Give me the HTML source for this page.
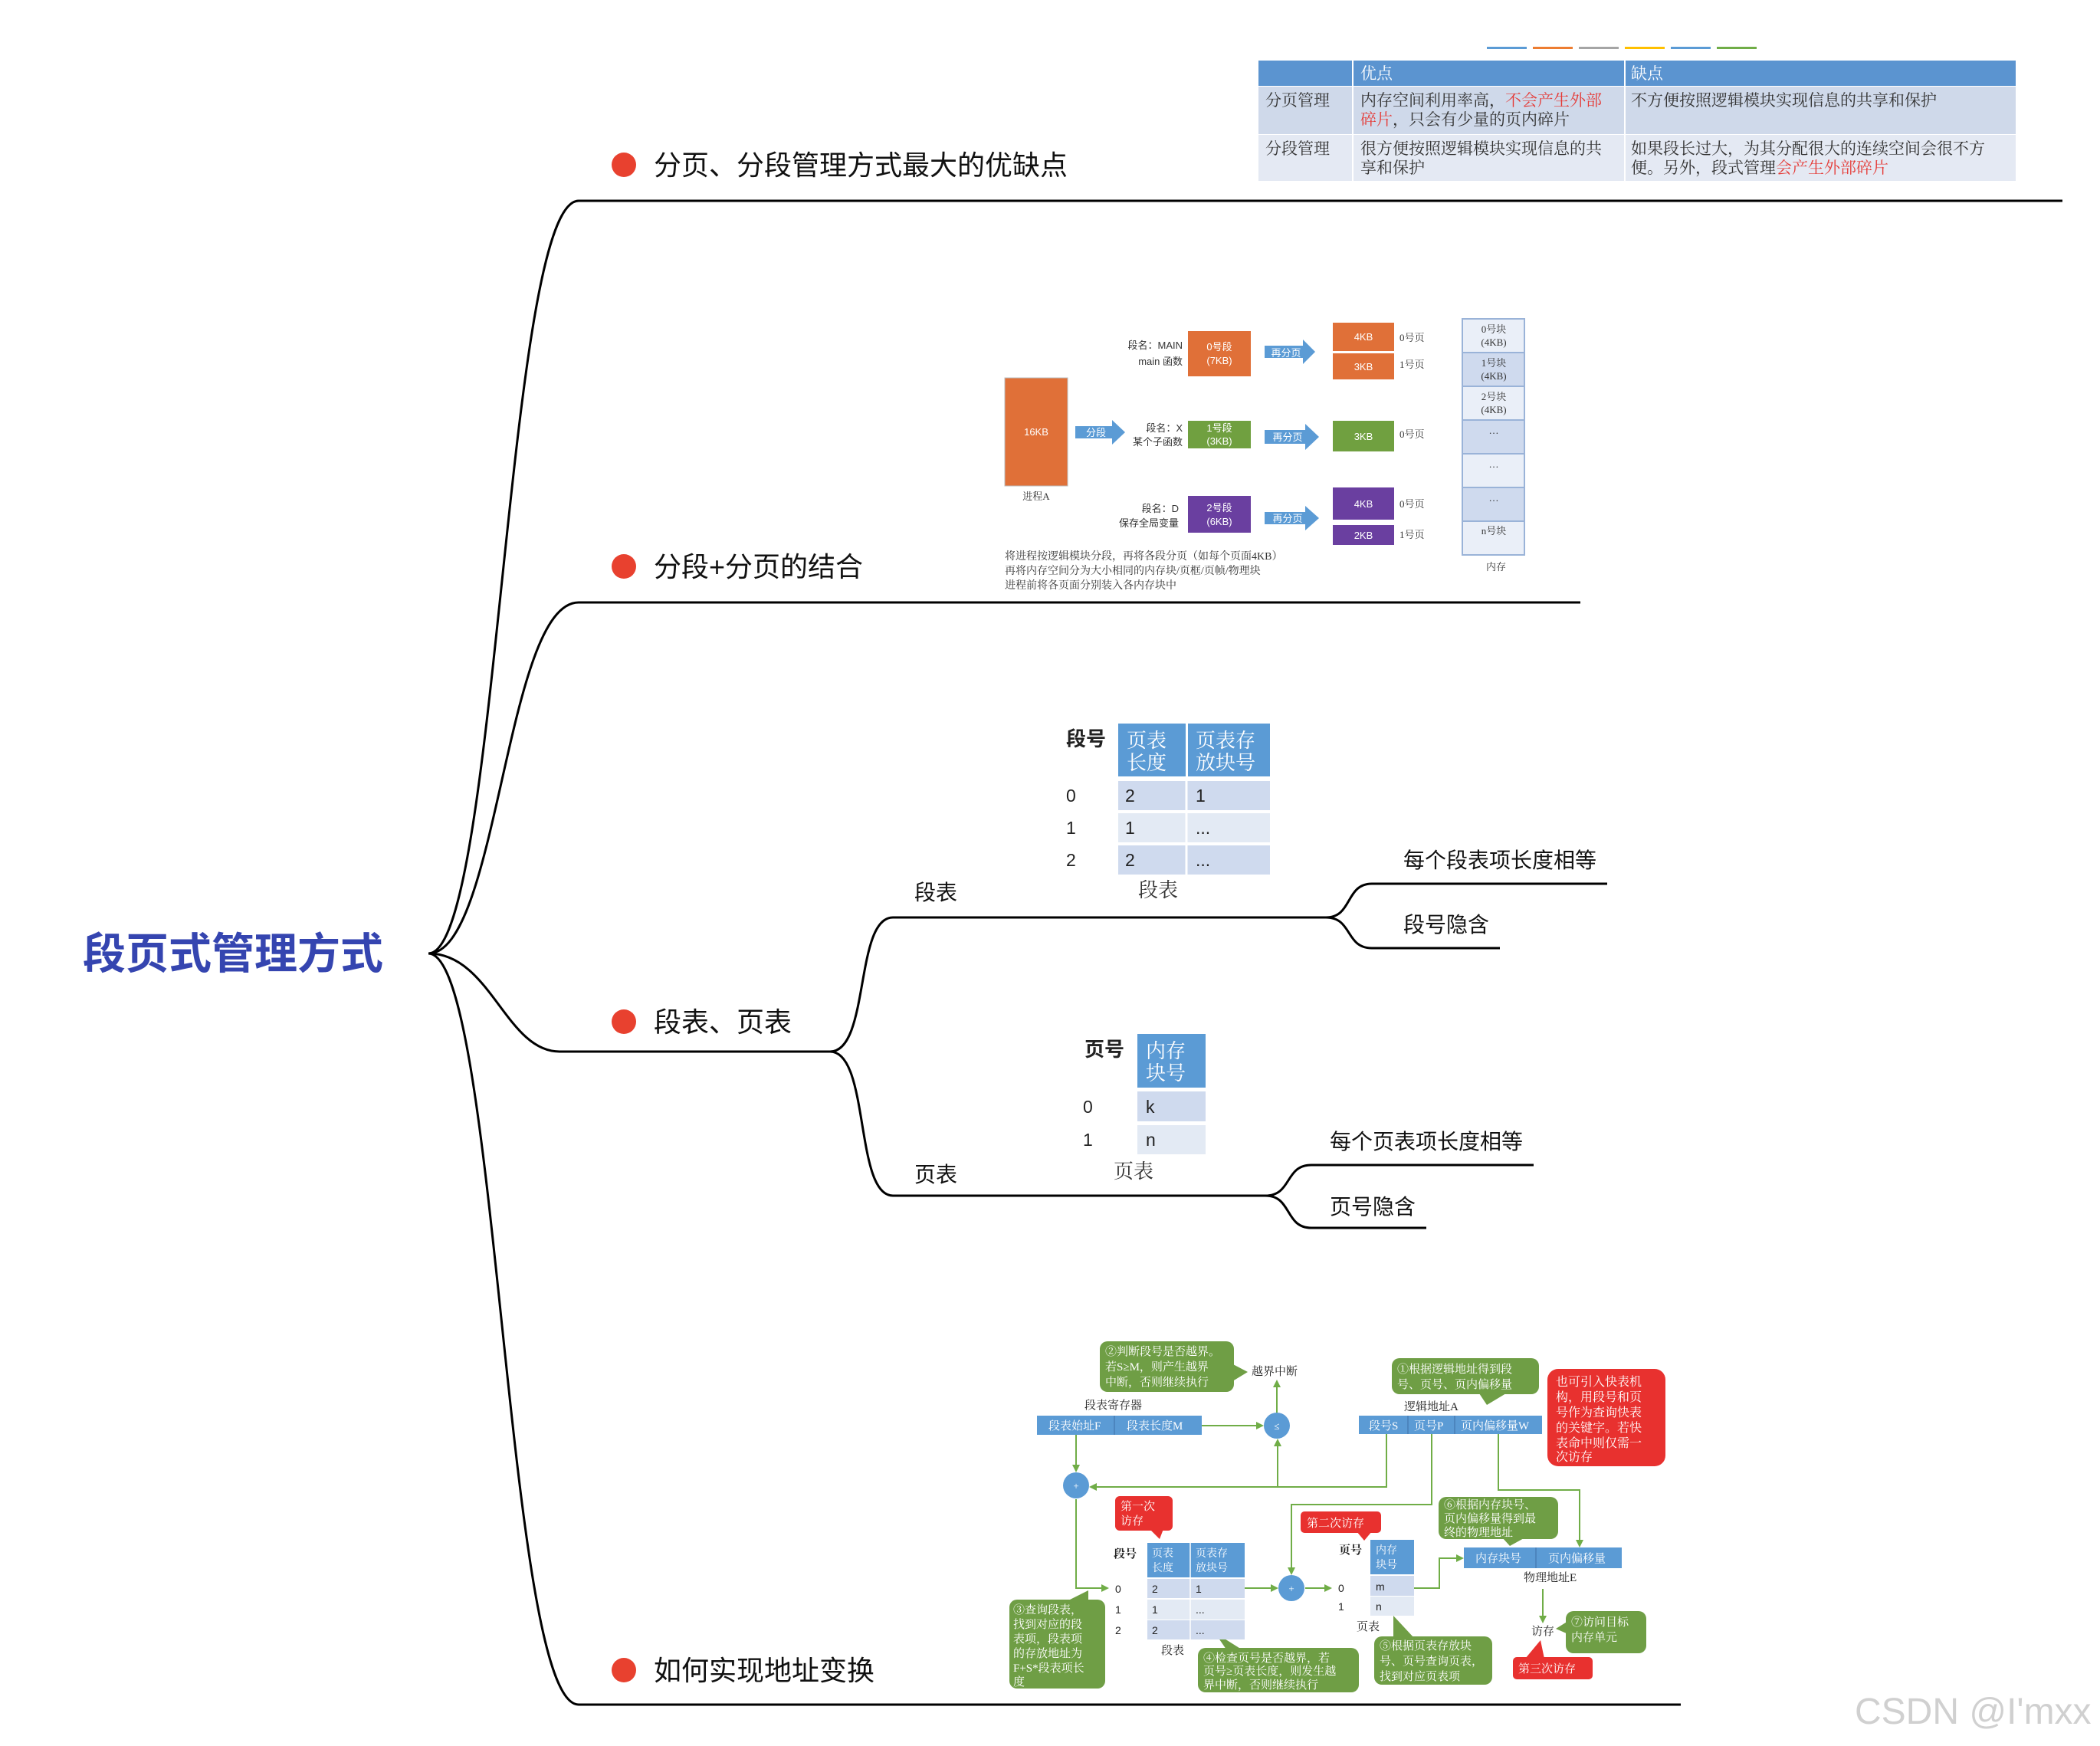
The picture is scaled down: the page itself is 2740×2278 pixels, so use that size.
<!DOCTYPE html>
<html><head><meta charset="utf-8"><style>
html,body{margin:0;padding:0;background:#fff;width:2740px;height:2278px;overflow:hidden}
svg{display:block}
.s{font-family:"Liberation Sans","Noto Sans CJK SC",sans-serif}
.r{font-family:"Liberation Serif","Noto Serif CJK SC",serif}
</style></head><body>
<svg width="2740" height="2278" viewBox="0 0 2740 2278" xmlns="http://www.w3.org/2000/svg">
<defs>
<marker id="ag" markerWidth="10" markerHeight="10" refX="8" refY="5" orient="auto" markerUnits="userSpaceOnUse"><path d="M0,0 L10,5 L0,10 z" fill="#70ad47"/></marker>
</defs>
<g fill="none" stroke="#000" stroke-width="3">
<path d="M559,1244 C650,1244 660,262 755,262 L2691,262"/>
<path d="M559,1244 C650,1244 660,786 755,786 L2062,786"/>
<path d="M559,1244 C640,1244 660,1372 730,1372 L1083,1372"/>
<path d="M559,1244 C650,1244 660,2224 755,2224 L2193,2224"/>
<path d="M1083,1372 C1135,1372 1115,1197 1165,1197 L1730,1197"/>
<path d="M1083,1372 C1135,1372 1115,1560 1165,1560 L1651,1560"/>
<path d="M1730,1197 C1765,1197 1755,1153 1790,1153 L2097,1153"/>
<path d="M1730,1197 C1765,1197 1755,1237 1790,1237 L1957,1237"/>
<path d="M1651,1560 C1686,1560 1676,1520 1711,1520 L2001,1520"/>
<path d="M1651,1560 C1686,1560 1676,1602 1711,1602 L1861,1602"/>
</g>
<text x="108" y="1264" class="s" font-size="56" font-weight="bold" fill="#3545b0">段页式管理方式</text>
<g fill="#e8412f"><circle cx="814" cy="215" r="16"/><circle cx="814" cy="739" r="16"/><circle cx="814" cy="1333" r="16"/><circle cx="814" cy="2179" r="16"/></g>
<g class="s" font-size="36" fill="#111">
<text x="853" y="228">分页、分段管理方式最大的优缺点</text>
<text x="853" y="752">分段+分页的结合</text>
<text x="853" y="1346">段表、页表</text>
<text x="853" y="2192">如何实现地址变换</text>
</g>
<g class="s" font-size="28" fill="#111">
<text x="1193" y="1174">段表</text>
<text x="1193" y="1542">页表</text>
<text x="1831" y="1132">每个段表项长度相等</text>
<text x="1831" y="1216">段号隐含</text>
<text x="1735" y="1499">每个页表项长度相等</text>
<text x="1735" y="1584">页号隐含</text>
</g>

<g>
<rect x="1940" y="61" width="52" height="3" fill="#5b9bd5"/><rect x="2000" y="61" width="52" height="3" fill="#ed7d31"/><rect x="2060" y="61" width="52" height="3" fill="#a5a5a5"/><rect x="2120" y="61" width="52" height="3" fill="#ffc000"/><rect x="2180" y="61" width="52" height="3" fill="#5b9bd5"/><rect x="2240" y="61" width="52" height="3" fill="#70ad47"/>
<rect x="1642" y="79" width="988" height="33" fill="#5b94d0"/>
<rect x="1642" y="113" width="988" height="62" fill="#cfd9ea"/>
<rect x="1642" y="176" width="988" height="60" fill="#e4e9f3"/>
<g stroke="#fff" stroke-width="2"><line x1="1765" y1="79" x2="1765" y2="236"/><line x1="2120" y1="79" x2="2120" y2="236"/></g>
<g class="r" font-size="21" fill="#333">
<text x="1775" y="103" fill="#fff">优点</text><text x="2128" y="103" fill="#fff">缺点</text>
<text x="1651" y="138">分页管理</text>
<text x="1775" y="138">内存空间利用率高，<tspan fill="#e53935">不会产生外部</tspan></text>
<text x="1775" y="163"><tspan fill="#e53935">碎片</tspan>，只会有少量的页内碎片</text>
<text x="2128" y="138">不方便按照逻辑模块实现信息的共享和保护</text>
<text x="1651" y="201">分段管理</text>
<text x="1775" y="201">很方便按照逻辑模块实现信息的共</text>
<text x="1775" y="226">享和保护</text>
<text x="2128" y="201">如果段长过大，为其分配很大的连续空间会很不方</text>
<text x="2128" y="226">便。另外，段式管理<tspan fill="#e53935">会产生外部碎片</tspan></text>
</g>
</g>

<g class="s" font-size="13">
<rect x="1311" y="493" width="82" height="141" fill="#e07038" stroke="#bbb"/>
<text x="1352" y="568" fill="#fff" text-anchor="middle">16KB</text>
<text x="1352" y="652" fill="#333" text-anchor="middle" class="r">进程A</text>
<path d="M1403,556 h48 v-8 l17,16 l-17,16 v-8 h-48z" fill="#5b9bd5"/><text x="1430" y="569" fill="#fff" text-anchor="middle">分段</text>
<g fill="#333" text-anchor="end">
<text x="1543" y="455">段名：MAIN</text><text x="1543" y="476">main 函数</text>
<text x="1543" y="563">段名：X</text><text x="1543" y="581">某个子函数</text>
<text x="1538" y="668">段名：D</text><text x="1538" y="687">保存全局变量</text>
</g>
<rect x="1550" y="432" width="82" height="59" fill="#e07038"/><text x="1591" y="457" fill="#fff" text-anchor="middle">0号段</text><text x="1591" y="475" fill="#fff" text-anchor="middle">(7KB)</text>
<rect x="1550" y="549" width="82" height="36" fill="#70a040"/><text x="1591" y="563" fill="#fff" text-anchor="middle">1号段</text><text x="1591" y="580" fill="#fff" text-anchor="middle">(3KB)</text>
<rect x="1550" y="647" width="82" height="48" fill="#6a3fa0"/><text x="1591" y="667" fill="#fff" text-anchor="middle">2号段</text><text x="1591" y="685" fill="#fff" text-anchor="middle">(6KB)</text>
<path d="M1650,451 h50 v-8 l16,16 l-16,16 v-8 h-50z" fill="#5b9bd5"/><text x="1678" y="465" fill="#fff" text-anchor="middle">再分页</text>
<path d="M1650,561 h53 v-8 l18,17 l-18,17 v-8 h-53z" fill="#5b9bd5"/><text x="1680" y="575" fill="#fff" text-anchor="middle">再分页</text>
<path d="M1650,668 h53 v-8 l18,16 l-18,16 v-8 h-53z" fill="#5b9bd5"/><text x="1680" y="681" fill="#fff" text-anchor="middle">再分页</text>
<rect x="1739" y="421" width="80" height="37" fill="#e07038"/><text x="1779" y="444" fill="#fff" text-anchor="middle">4KB</text>
<rect x="1739" y="461" width="80" height="34" fill="#e07038"/><text x="1779" y="483" fill="#fff" text-anchor="middle">3KB</text>
<rect x="1739" y="549" width="80" height="40" fill="#70a040"/><text x="1779" y="574" fill="#fff" text-anchor="middle">3KB</text>
<rect x="1739" y="636" width="80" height="42" fill="#6a3fa0"/><text x="1779" y="662" fill="#fff" text-anchor="middle">4KB</text>
<rect x="1739" y="685" width="80" height="26" fill="#6a3fa0"/><text x="1779" y="703" fill="#fff" text-anchor="middle">2KB</text>
<g fill="#333" class="r"><text x="1826" y="445">0号页</text><text x="1826" y="480">1号页</text><text x="1826" y="571">0号页</text><text x="1826" y="662">0号页</text><text x="1826" y="702">1号页</text></g>
<g stroke="#9ab3d8" stroke-width="2">
<rect x="1908" y="416" width="81" height="44" fill="#eaeff8"/><rect x="1908" y="460" width="81" height="44" fill="#cfdaee"/><rect x="1908" y="504" width="81" height="44" fill="#eaeff8"/><rect x="1908" y="548" width="81" height="44" fill="#cfdaee"/><rect x="1908" y="592" width="81" height="44" fill="#eaeff8"/><rect x="1908" y="636" width="81" height="44" fill="#cfdaee"/><rect x="1908" y="680" width="81" height="44" fill="#eaeff8"/>
</g>
<g fill="#333" text-anchor="middle" class="r">
<text x="1949" y="434">0号块</text><text x="1949" y="451">(4KB)</text>
<text x="1949" y="478">1号块</text><text x="1949" y="495">(4KB)</text>
<text x="1949" y="522">2号块</text><text x="1949" y="539">(4KB)</text>
<text x="1949" y="566">…</text><text x="1949" y="610">…</text><text x="1949" y="654">…</text><text x="1949" y="697">n号块</text>
<text x="1952" y="744">内存</text>
</g>
<g fill="#333" class="r" font-size="14"><text x="1311" y="730">将进程按逻辑模块分段，再将各段分页（如每个页面4KB）</text><text x="1311" y="749">再将内存空间分为大小相同的内存块/页框/页帧/物理块</text><text x="1311" y="768">进程前将各页面分别装入各内存块中</text></g>
</g>

<g class="s">
<text x="1391" y="973" font-size="26" font-weight="bold" fill="#222">段号</text>
<rect x="1459" y="944" width="88" height="69" fill="#5b9bd5"/><rect x="1550" y="944" width="107" height="69" fill="#5b9bd5"/>
<g font-size="26" fill="#fff" class="r"><text x="1470" y="975">页表</text><text x="1470" y="1004">长度</text><text x="1560" y="975">页表存</text><text x="1560" y="1004">放块号</text></g>
<rect x="1459" y="1019" width="198" height="38" fill="#cfdaee"/><rect x="1459" y="1061" width="198" height="38" fill="#e3eaf4"/><rect x="1459" y="1103" width="198" height="38" fill="#cfdaee"/>
<line x1="1548" y1="1019" x2="1548" y2="1141" stroke="#fff" stroke-width="3"/>
<g font-size="23" fill="#222"><text x="1391" y="1046">0</text><text x="1391" y="1088">1</text><text x="1391" y="1130">2</text>
<text x="1468" y="1046">2</text><text x="1468" y="1088">1</text><text x="1468" y="1130">2</text>
<text x="1560" y="1046">1</text><text x="1560" y="1088">...</text><text x="1560" y="1130">...</text></g>
<text x="1485" y="1170" font-size="26" fill="#333" class="r">段表</text>
<text x="1415" y="1378" font-size="26" font-weight="bold" fill="#222">页号</text>
<rect x="1484" y="1349" width="89" height="70" fill="#5b9bd5"/>
<g font-size="26" fill="#fff" class="r"><text x="1495" y="1380">内存</text><text x="1495" y="1409">块号</text></g>
<rect x="1484" y="1424" width="89" height="39" fill="#cfdaee"/><rect x="1484" y="1468" width="89" height="38" fill="#e3eaf4"/>
<g font-size="23" fill="#222"><text x="1413" y="1452">0</text><text x="1413" y="1495">1</text><text x="1495" y="1452">k</text><text x="1495" y="1495">n</text></g>
<text x="1453" y="1537" font-size="26" fill="#333" class="r">页表</text>
</g>

<g class="r" font-size="15">
<g fill="none" stroke="#70ad47" stroke-width="2">
<line x1="1568" y1="1860" x2="1647" y2="1860" marker-end="url(#ag)"/>
<line x1="1666" y1="1843" x2="1666" y2="1802" marker-end="url(#ag)"/>
<line x1="1404" y1="1872" x2="1404" y2="1919" marker-end="url(#ag)"/>
<polyline points="1809,1871 1809,1940 1423,1940" marker-end="url(#ag)"/>
<line x1="1667" y1="1940" x2="1667" y2="1879" marker-end="url(#ag)"/>
<polyline points="1404,1956 1404,2072 1445,2072" marker-end="url(#ag)"/>
<line x1="1624" y1="2072" x2="1666" y2="2072" marker-end="url(#ag)"/>
<polyline points="1868,1871 1868,1963 1685,1963 1685,2053" marker-end="url(#ag)"/>
<line x1="1703" y1="2072" x2="1736" y2="2072" marker-end="url(#ag)"/>
<polyline points="1955,1871 1955,1944 2061,1944 2061,2017" marker-end="url(#ag)"/>
<polyline points="1845,2072 1878,2072 1878,2033 1908,2033" marker-end="url(#ag)"/>
<line x1="2013" y1="2073" x2="2013" y2="2116" marker-end="url(#ag)"/>
</g>
<circle cx="1666" cy="1860" r="17" fill="#5b9bd5"/><text x="1666" y="1865" fill="#fff" text-anchor="middle" font-size="13">≤</text>
<circle cx="1404" cy="1938" r="17" fill="#5b9bd5"/><text x="1404" y="1943" fill="#fff" text-anchor="middle" font-size="13">+</text>
<circle cx="1685" cy="2072" r="17" fill="#5b9bd5"/><text x="1685" y="2077" fill="#fff" text-anchor="middle" font-size="13">+</text>
<g fill="#6f9e45">
<rect x="1435" y="1750" width="175" height="66" rx="10"/><polygon points="1605,1778 1628,1790 1605,1804"/>
<rect x="1317" y="2087" width="125" height="116" rx="10"/><polygon points="1390,2090 1420,2075 1420,2092"/>
<rect x="1563" y="2150" width="210" height="58" rx="10"/><polygon points="1585,2130 1620,2152 1600,2152"/>
<rect x="1816" y="1772" width="192" height="47" rx="10"/><polygon points="1930,1818 1940,1833 1965,1818"/>
<rect x="1877" y="1953" width="156" height="55" rx="10"/><polygon points="1960,2006 1970,2017 1990,2006"/>
<rect x="1793" y="2135" width="154" height="63" rx="10"/><polygon points="1818,2108 1818,2137 1845,2137"/>
<rect x="2043" y="2102" width="105" height="55" rx="10"/><polygon points="2046,2115 2030,2125 2046,2132"/>
</g>
<g fill="#e8312f">
<rect x="1455" y="1952" width="75" height="45" rx="6"/><polygon points="1500,1995 1513,2008 1518,1995"/>
<rect x="1697" y="1972" width="105" height="28" rx="5"/><polygon points="1770,1998 1780,2010 1790,1998"/>
<rect x="2019" y="1786" width="154" height="127" rx="14"/>
<rect x="1974" y="2162" width="104" height="29" rx="5"/><polygon points="1990,2164 2010,2140 2015,2164"/>
</g>
<g fill="#fff">
<text x="1442" y="1768">②判断段号是否越界。</text><text x="1442" y="1788">若S≥M，则产生越界</text><text x="1442" y="1808">中断，否则继续执行</text>
<text x="1322" y="2105">③查询段表，</text><text x="1322" y="2124">找到对应的段</text><text x="1322" y="2143">表项，段表项</text><text x="1322" y="2162">的存放地址为</text><text x="1322" y="2181">F+S*段表项长</text><text x="1322" y="2199">度</text>
<text x="1570" y="2168">④检查页号是否越界，若</text><text x="1570" y="2185">页号≥页表长度，则发生越</text><text x="1570" y="2203">界中断，否则继续执行</text>
<text x="1823" y="1791">①根据逻辑地址得到段</text><text x="1823" y="1811">号、页号、页内偏移量</text>
<text x="1884" y="1968">⑥根据内存块号、</text><text x="1884" y="1986">页内偏移量得到最</text><text x="1884" y="2004">终的物理地址</text>
<text x="1800" y="2152">⑤根据页表存放块</text><text x="1800" y="2172">号、页号查询页表，</text><text x="1800" y="2192">找到对应页表项</text>
<text x="2050" y="2121">⑦访问目标</text><text x="2050" y="2141">内存单元</text>
<text x="1462" y="1970">第一次</text><text x="1462" y="1989">访存</text>
<text x="1705" y="1992">第二次访存</text>
<text x="1981" y="2182">第三次访存</text>
<g font-size="16"><text x="2030" y="1808">也可引入快表机</text><text x="2030" y="1828">构，用段号和页</text><text x="2030" y="1848">号作为查询快表</text><text x="2030" y="1868">的关键字。若快</text><text x="2030" y="1888">表命中则仅需一</text><text x="2030" y="1906">次访存</text></g>
</g>
<g fill="#222">
<text x="1633" y="1794">越界中断</text>
<text x="1415" y="1838">段表寄存器</text>
<text x="1832" y="1840">逻辑地址A</text>
<text x="1988" y="2063">物理地址E</text>
<text x="1998" y="2133">访存</text>
</g>
<rect x="1353" y="1847" width="215" height="25" fill="#5b9bd5"/><line x1="1454" y1="1847" x2="1454" y2="1872" stroke="#3d6fa8"/>
<text x="1368" y="1865" fill="#fff">段表始址F</text><text x="1470" y="1865" fill="#fff">段表长度M</text>
<rect x="1773" y="1847" width="239" height="24" fill="#5b9bd5"/><line x1="1837" y1="1847" x2="1837" y2="1871" stroke="#3d6fa8"/><line x1="1898" y1="1847" x2="1898" y2="1871" stroke="#3d6fa8"/>
<text x="1786" y="1865" fill="#fff">段号S</text><text x="1845" y="1865" fill="#fff">页号P</text><text x="1906" y="1865" fill="#fff">页内偏移量W</text>
<rect x="1910" y="2019" width="206" height="27" fill="#5b9bd5"/><line x1="2004" y1="2019" x2="2004" y2="2046" stroke="#3d6fa8"/>
<text x="1925" y="2038" fill="#fff">内存块号</text><text x="2020" y="2038" fill="#fff">页内偏移量</text>
<text x="1453" y="2032" font-weight="bold" fill="#222">段号</text>
<rect x="1497" y="2013" width="127" height="45" fill="#5b9bd5"/><line x1="1553" y1="2013" x2="1553" y2="2139" stroke="#fff" stroke-width="1.5"/>
<g fill="#fff" font-size="14"><text x="1503" y="2031">页表</text><text x="1503" y="2050">长度</text><text x="1560" y="2031">页表存</text><text x="1560" y="2050">放块号</text></g>
<rect x="1497" y="2060" width="127" height="25" fill="#cfdaee"/><rect x="1497" y="2087" width="127" height="26" fill="#e3eaf4"/><rect x="1497" y="2114" width="127" height="25" fill="#cfdaee"/>
<line x1="1553" y1="2060" x2="1553" y2="2139" stroke="#fff" stroke-width="1.5"/>
<text x="1747" y="2027" font-weight="bold" fill="#222">页号</text>
<rect x="1788" y="2009" width="57" height="45" fill="#5b9bd5"/>
<g fill="#fff" font-size="14"><text x="1795" y="2027">内存</text><text x="1795" y="2046">块号</text></g>
<rect x="1788" y="2056" width="57" height="26" fill="#cfdaee"/><rect x="1788" y="2083" width="57" height="25" fill="#e3eaf4"/>
<g fill="#222" font-size="14" class="s"><text x="1455" y="2078">0</text><text x="1455" y="2105">1</text><text x="1455" y="2132">2</text><text x="1503" y="2078">2</text><text x="1503" y="2105">1</text><text x="1503" y="2132">2</text><text x="1560" y="2078">1</text><text x="1560" y="2105">...</text><text x="1560" y="2132">...</text>
<text x="1746" y="2077">0</text><text x="1746" y="2101">1</text><text x="1795" y="2075">m</text><text x="1795" y="2101">n</text></g>
<text x="1515" y="2158" fill="#222">段表</text>
<text x="1770" y="2127" fill="#222">页表</text>
</g>

<text x="2420" y="2249" class="s" font-size="48" fill="#d0d0d0">CSDN @I'mxx</text>
</svg>
</body></html>
